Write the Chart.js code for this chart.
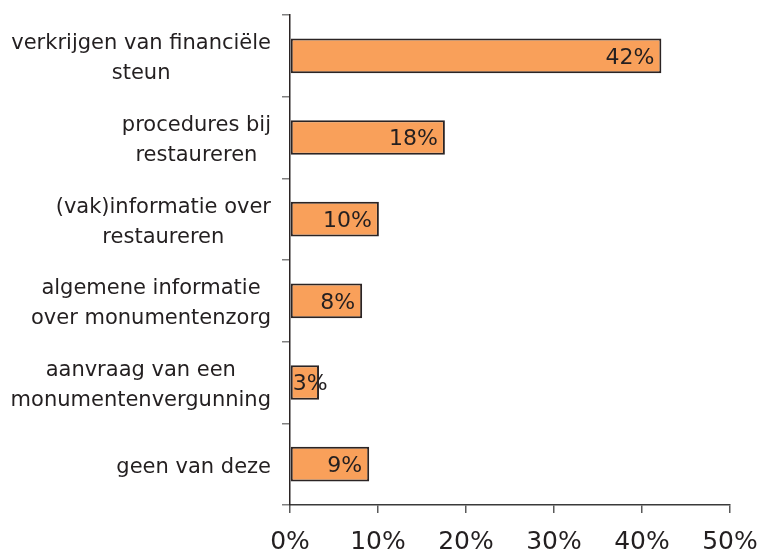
<!DOCTYPE html>
<html>
<head>
<meta charset="utf-8">
<script src="https://cdn.jsdelivr.net/npm/chart.js@4.4.1/dist/chart.umd.min.js"></script>
<style>
  html, body { margin: 0; padding: 0; background: #ffffff; }
  #wrap { width: 759px; height: 553px; }
</style>
</head>
<body>
<div id="wrap"><canvas id="barChart" width="759" height="553"></canvas></div>
<script>
// categories (one array per label, one entry per line)
const categories = [
    ['verkrijgen van financiële', 'steun'],
    ['procedures bij', 'restaureren'],
    ['(vak)informatie over', 'restaureren'],
    ['algemene informatie', 'over monumentenzorg'],
    ['aanvraag van een', 'monumentenvergunning'],
    ['geen van deze']
];
const values = [42.2, 17.6, 10.1, 8.2, 3.3, 9.0]; // share of respondents (%)
const valueLabels = ['42%', '18%', '10%', '8%', '3%', '9%'];
const xTickValues = [0, 10, 20, 30, 40, 50];

const FONT = '"DejaVu Sans", sans-serif';
const TEXT = '#231f20';

// draws the category labels (lines centred on each other, block right-aligned)
// and the value labels at the end of each bar
const labelPlugin = {
    id: 'labelPlugin',
    afterDraw(chart) {
        const ctx = chart.ctx;
        const yScale = chart.scales.y;
        ctx.save();
        ctx.fillStyle = TEXT;
        ctx.font = '21px ' + FONT;
        ctx.textBaseline = 'middle';
        ctx.textAlign = 'center';
        const lineH = 30;
        categories.forEach((lines, i) => {
            const cy = yScale.getPixelForValue(i) + 3;
            const blockW = Math.max(...lines.map(l => ctx.measureText(l).width));
            const cx = 271 - blockW / 2;
            const top = cy - (lines.length - 1) * lineH / 2;
            lines.forEach((l, j) => ctx.fillText(l, cx, top + j * lineH));
        });

        // value labels
        ctx.font = '22px ' + FONT;
        ctx.textAlign = 'left';
        const meta = chart.getDatasetMeta(0);
        meta.data.forEach((bar, i) => {
            const w = ctx.measureText(valueLabels[i]).width;
            const x = Math.max(bar.x - 7 - w, bar.base + 2);
            ctx.fillText(valueLabels[i], x, bar.y + 2);
        });
        ctx.restore();
    }
};

const ctx = document.getElementById('barChart').getContext('2d');
const chart = new Chart(ctx, {
    type: 'bar',
    data: {
        labels: categories,
        datasets: [{
            data: values,
            backgroundColor: '#f9a05a',
            borderColor: '#2b2424',
            borderWidth: 2,
            borderSkipped: false,
            categoryPercentage: 1,
            barPercentage: 0.425
        }]
    },
    options: {
        indexAxis: 'y',
        responsive: false,
        animation: false,
        layout: { padding: { top: 12, right: 0, left: 0, bottom: 0 } },
        plugins: {
            legend: { display: false },
            tooltip: { enabled: false }
        },
        scales: {
            x: {
                min: 0,
                max: 50,
                afterBuildTicks(scale) {
                    scale.ticks = xTickValues.map(v => ({ value: v }));
                },
                afterFit(scale) {
                    scale.height = 48;
                    scale.paddingRight = 29;
                    scale.paddingLeft = 0;
                },
                border: { color: '#3a3a3a', width: 1.5 },
                grid: {
                    drawOnChartArea: false,
                    drawTicks: true,
                    tickLength: 8,
                    color: '#5a5a5a',
                    lineWidth: 1.5
                },
                ticks: {
                    padding: 14,
                    maxRotation: 0,
                    color: TEXT,
                    font: { family: FONT, size: 25 },
                    callback: v => v + '%'
                }
            },
            y: {
                afterFit(scale) { scale.width = 290; },
                border: { color: '#2b2424', width: 1.5 },
                grid: {
                    offset: true,
                    drawOnChartArea: false,
                    drawTicks: true,
                    tickLength: 8,
                    color: '#808080',
                    lineWidth: 1.5
                },
                ticks: {
                    color: 'rgba(0,0,0,0)',
                    font: { family: FONT, size: 20 }
                }
            }
        }
    },
    plugins: [labelPlugin]
});
</script>
</body>
</html>
